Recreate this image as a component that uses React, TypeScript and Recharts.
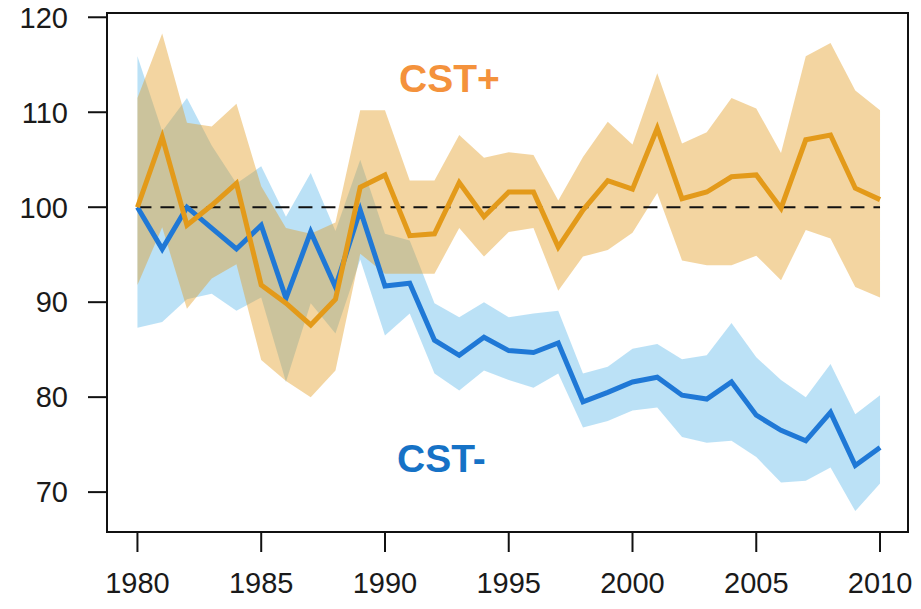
import {
  ComposedChart,
  Area,
  Line,
  XAxis,
  YAxis,
  ReferenceLine,
  ReferenceArea,
} from 'recharts';

const YEARS = [
  1980, 1981, 1982, 1983, 1984, 1985, 1986, 1987, 1988, 1989, 1990, 1991, 1992, 1993, 1994, 1995,
  1996, 1997, 1998, 1999, 2000, 2001, 2002, 2003, 2004, 2005, 2006, 2007, 2008, 2009, 2010,
];

const PLUS_MEAN = [
  100, 107.4, 98.1, 100.2, 102.5, 91.8, 89.9, 87.6, 90.3, 102.1, 103.4, 97.0, 97.2, 102.6, 99.0,
  101.6, 101.6, 95.8, 99.7, 102.8, 101.9, 108.3, 100.9, 101.6, 103.2, 103.4, 99.9, 107.1, 107.6,
  102.0, 100.8,
];
const PLUS_UPPER = [
  111.5, 118.3, 108.9, 108.5, 110.9, 102.2, 97.8, 97.2, 98.4, 110.2, 110.2, 102.8, 102.8, 107.6,
  105.2, 105.8, 105.5, 100.7, 105.3, 109.0, 106.6, 114.1, 106.7, 107.9, 111.5, 110.4, 105.7, 115.9,
  117.3, 112.3, 110.2,
];
const PLUS_LOWER = [
  91.8, 97.9, 89.3, 92.5, 94.0, 83.9, 81.7, 80.0, 82.8, 95.1, 93.0, 93.0, 93.0, 97.8, 94.8, 97.4,
  97.8, 91.2, 94.8, 95.5, 97.3, 101.5, 94.4, 93.9, 93.9, 94.9, 92.3, 97.6, 96.7, 91.6, 90.5,
];

const MINUS_MEAN = [
  100, 95.6, 100.0, 97.8, 95.6, 98.1, 90.4, 97.4, 91.6, 99.7, 91.7, 92.0, 86.0, 84.4, 86.3, 84.9,
  84.7, 85.7, 79.5, 80.5, 81.6, 82.1, 80.2, 79.8, 81.6, 78.1, 76.5, 75.4, 78.4, 72.8, 74.7,
];
const MINUS_UPPER = [
  115.9, 108.0, 111.5, 106.5, 102.5, 104.3, 99.0, 103.6, 97.5, 105.0, 97.2, 96.5, 89.9, 88.4, 90.0,
  88.4, 88.8, 89.1, 82.5, 83.2, 85.1, 85.6, 84.0, 84.4, 87.8, 84.2, 81.8, 80.0, 83.5, 78.2, 80.2,
];
const MINUS_LOWER = [
  87.3, 87.9, 90.3, 90.9, 89.1, 90.5, 81.6, 89.9, 86.7, 94.5, 86.5, 88.8, 82.5, 80.7, 82.8, 81.8,
  81.0, 82.5, 76.8, 77.5, 78.6, 78.9, 75.8, 75.2, 75.4, 73.7, 71.0, 71.2, 72.6, 68.0, 70.9,
];

const X_TICKS = [1980, 1985, 1990, 1995, 2000, 2005, 2010];
const Y_TICKS = [70, 80, 90, 100, 110, 120];
const X_DOMAIN = [1978.77, 2011.13];
const Y_DOMAIN = [65.8, 120.45];

const data = YEARS.map((year, i) => ({
  year,
  plusMean: PLUS_MEAN[i],
  plusBand: [PLUS_LOWER[i], PLUS_UPPER[i]],
  minusMean: MINUS_MEAN[i],
  minusBand: [MINUS_LOWER[i], MINUS_UPPER[i]],
}));

const FONT = '"Liberation Sans", Arial, sans-serif';
const tickStyle = { fontSize: 29, fill: '#1a1a1a', fontFamily: FONT };

export default function App() {
  return (
    <div style={{ position: 'absolute', left: 0, top: 0, width: 921, height: 609, background: '#fff' }}>
      <ComposedChart
        width={921}
        height={609}
        data={data}
        margin={{ top: 13, right: 13, bottom: 0, left: 0 }}
      >
        <XAxis
          dataKey="year"
          type="number"
          domain={X_DOMAIN}
          ticks={X_TICKS}
          allowDataOverflow
          height={77}
          tickSize={20}
          tickMargin={20}
          axisLine={false}
          tickLine={{ stroke: '#111', strokeWidth: 2 }}
          tick={tickStyle}
        />
        <YAxis
          type="number"
          domain={Y_DOMAIN}
          ticks={Y_TICKS}
          allowDataOverflow
          width={107}
          tickSize={19}
          tickMargin={20}
          axisLine={false}
          tickLine={{ stroke: '#111', strokeWidth: 2 }}
          tick={tickStyle}
        />
        {/* bands first, blue under orange so the overlap turns olive */}
        <Area
          dataKey="minusBand"
          type="linear"
          stroke="none"
          fill="#5CB8EA"
          fillOpacity={0.42}
          isAnimationActive={false}
          dot={false}
          activeDot={false}
        />
        <Area
          dataKey="plusBand"
          type="linear"
          stroke="none"
          fill="#E29C1E"
          fillOpacity={0.42}
          isAnimationActive={false}
          dot={false}
          activeDot={false}
        />
        <ReferenceLine
          segment={[
            { x: 1980, y: 100 },
            { x: 2010, y: 100 },
          ]}
          stroke="#111"
          strokeWidth={2}
          strokeDasharray="14 9"
        />
        <Line
          dataKey="minusMean"
          type="linear"
          stroke="#1F78D6"
          strokeWidth={5}
          dot={false}
          activeDot={false}
          isAnimationActive={false}
        />
        <Line
          dataKey="plusMean"
          type="linear"
          stroke="#E39A1A"
          strokeWidth={5}
          dot={false}
          activeDot={false}
          isAnimationActive={false}
        />
        <ReferenceArea
          y1={Y_DOMAIN[0]}
          y2={Y_DOMAIN[1]}
          fill="none"
          stroke="#111"
          strokeWidth={2}
        />
      </ComposedChart>
      <div
        style={{
          position: 'absolute',
          left: 399,
          top: 59,
          fontFamily: FONT,
          fontWeight: 'bold',
          fontSize: 39,
          lineHeight: 1,
          color: '#F4923C',
        }}
      >
        CST+
      </div>
      <div
        style={{
          position: 'absolute',
          left: 397,
          top: 439,
          fontFamily: FONT,
          fontWeight: 'bold',
          fontSize: 39,
          lineHeight: 1,
          color: '#1672C6',
        }}
      >
        CST-
      </div>
    </div>
  );
}
